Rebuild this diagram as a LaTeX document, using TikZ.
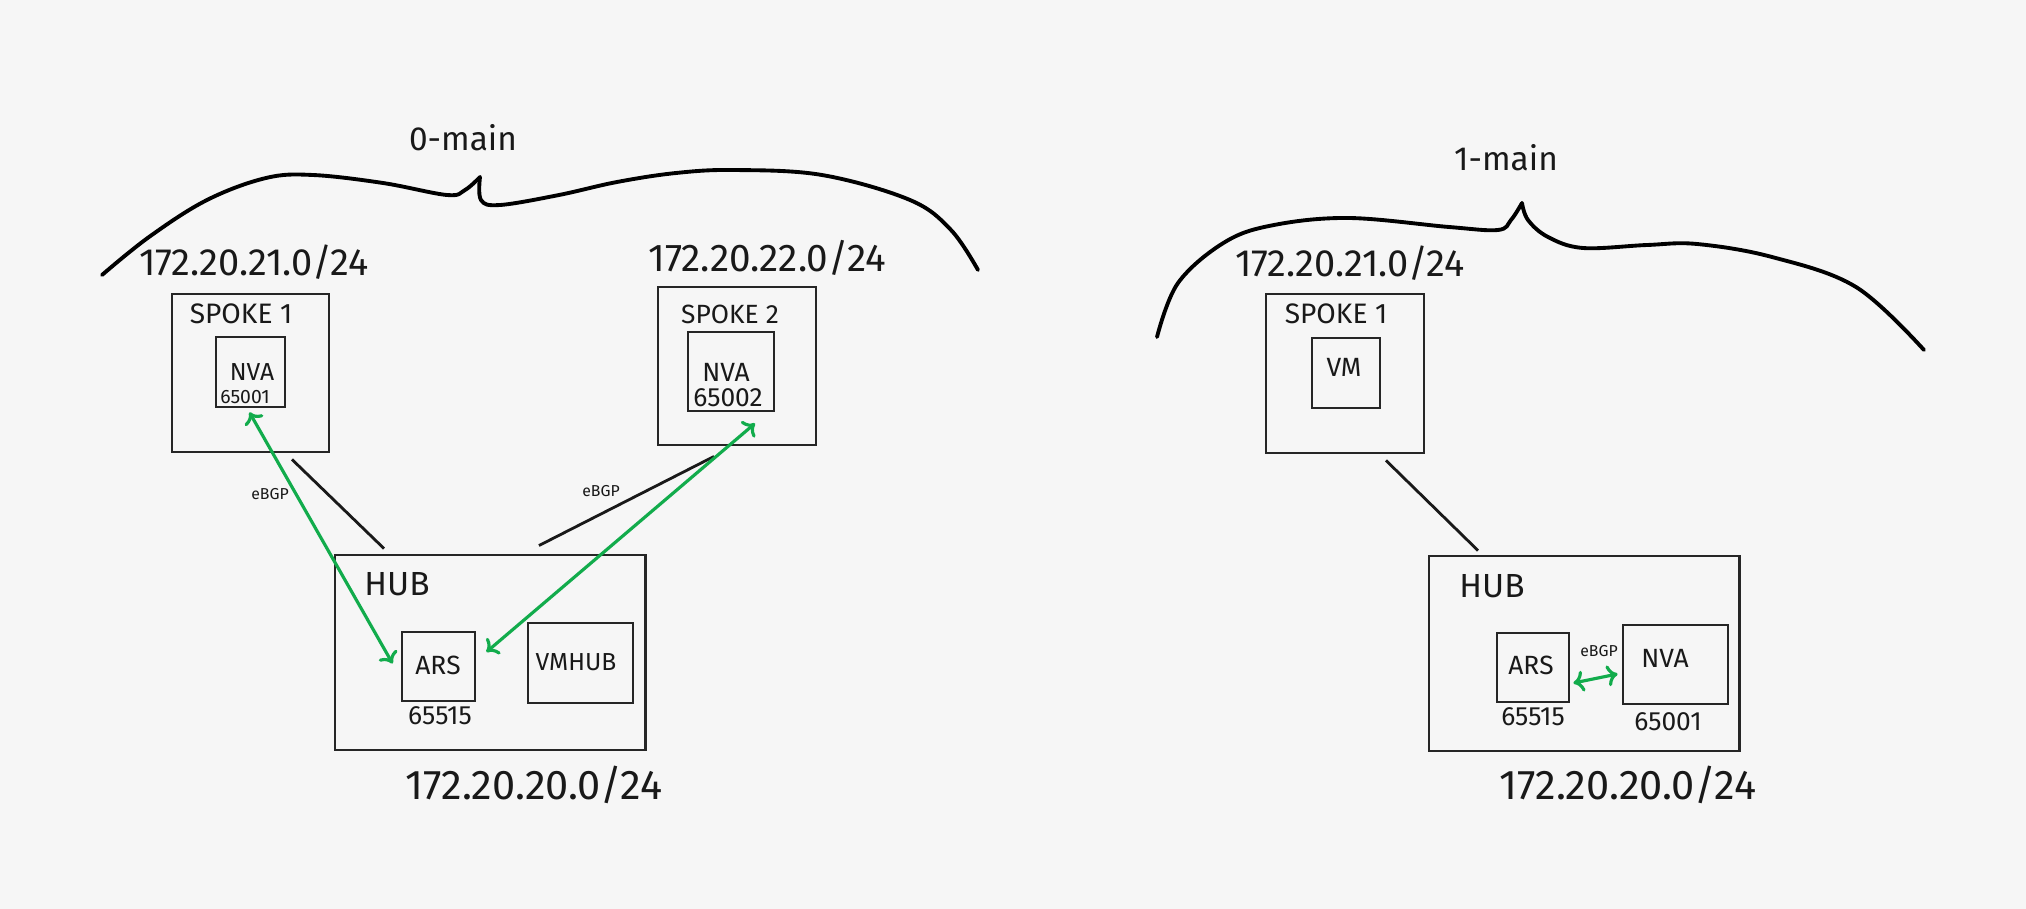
\documentclass[tikz,border=0pt]{standalone}
\usepackage{fontspec}
\setmainfont{Fira Sans}
\usepackage{tikz}
\usetikzlibrary{positioning, calc, arrows.meta}
\definecolor{paper}{HTML}{F6F6F6}
\definecolor{bgpgreen}{RGB}{18,172,76}
\newcommand{\fs}[1]{\fontsize{#1}{#1}\selectfont}
\tikzset{
  box/.style={draw=black!85, line width=0.8pt, inner sep=0pt},
  txt/.style={inner sep=0pt, text=black!90},
  link/.style={draw=black!90, line width=0.8pt},
  peer/.style={draw=bgpgreen, line width=0.9pt, {To[length=3pt,width=6pt]}-{To[length=3pt,width=6pt]}},
  brace/.style={line width=1.1pt, line cap=round, line join=round}
}

\begin{document}
\begin{tikzpicture}[x=0.01cm, y=-0.01cm]
      \fill[paper] (0,0) rectangle (2026,909);

      \draw[brace] plot[smooth, tension=0.6] coordinates {(102,275) (149,237) (207,200) (266,178) (313,175) (383,183) (447,195) (465,190) (480,177)};
      \draw[brace] plot[smooth, tension=0.6] coordinates {(480,177) (481,200) (500,205) (559,195) (617,182) (676,173) (734,170) (822,175) (910,200) (951,230) (978,270)};
      \draw[brace] plot[smooth, tension=0.6] coordinates {(1157,337) (1178,283) (1225,242) (1274,225) (1349,218) (1449,227) (1498,230) (1511,220) (1522,203)};
      \draw[brace] plot[smooth, tension=0.6] coordinates {(1522,203) (1528,220) (1548,237) (1583,248) (1647,245) (1697,244) (1772,257) (1856,287) (1924,350)};

      \node[txt, font=\fs{9.5}] (MAIN0) at (463,138) {0-main};
      \node[txt, font=\fs{9.5}] (MAIN1) at (1506,158) {1-main};

      \node[box, minimum width=1.57cm, minimum height=1.58cm] (SPK1) at (250.5,373) {};
      \node[box, minimum width=0.69cm, minimum height=0.70cm] (NVA1) at (250.5,372) {};
      \node[box, minimum width=1.58cm, minimum height=1.58cm] (SPK2) at (737,366) {};
      \node[box, minimum width=0.86cm, minimum height=0.79cm] (NVA2) at (731,371.5) {};
      \node[box, minimum width=3.10cm, minimum height=1.95cm] (HUB0) at (490,652.5) {};
      \node[box, minimum width=0.73cm, minimum height=0.69cm] (ARS0) at (438.5,666.5) {};
      \node[box, minimum width=1.05cm, minimum height=0.80cm] (VMH0) at (580.5,663) {};

      \node[box, minimum width=1.58cm, minimum height=1.59cm] (SPK3) at (1345,373.5) {};
      \node[box, minimum width=0.68cm, minimum height=0.70cm] (VM3) at (1346,373) {};
      \node[box, minimum width=3.10cm, minimum height=1.95cm] (HUB1) at (1584,653.5) {};
      \node[box, minimum width=0.72cm, minimum height=0.69cm] (ARS1) at (1533,667.5) {};
      \node[box, minimum width=1.05cm, minimum height=0.79cm] (NVA3) at (1675.5,664.5) {};

      \node[txt, font=\fs{10.8}] (NET1) at (254,262) {172.20.21.0/24};
      \node[txt, font=\fs{11}] (NET2) at (767,258) {172.20.22.0/24};
      \node[txt, font=\fs{11.8}] (NET0) at (534,785) {172.20.20.0/24};
      \node[txt, font=\fs{10.8}] (NET3) at (1350,263) {172.20.21.0/24};
      \node[txt, font=\fs{11.8}] (NET4) at (1628,785) {172.20.20.0/24};

      \node[txt, font=\fs{8}] (SPK1txt) at (241,314) {SPOKE 1};
      \node[txt, font=\fs{7.5}] (SPK2txt) at (730,314) {SPOKE 2};
      \node[txt, font=\fs{8}] (SPK3txt) at (1336,314) {SPOKE 1};
      \node[txt, font=\fs{7}] (NVA1txt) at (252,372) {NVA};
      \node[txt, font=\fs{5.5}] (NVA1asn) at (245,397) {65001};
      \node[txt, font=\fs{7.5}] (NVA2txt) at (726,372) {NVA};
      \node[txt, font=\fs{7.5}] (NVA2asn) at (728,398) {65002};
      \node[txt, font=\fs{7.5}] (VM3txt) at (1344,367) {VM};

      \node[txt, font=\fs{9.5}] (HUB0txt) at (397,584) {HUB};
      \node[txt, font=\fs{7.5}] (ARS0txt) at (438,665) {ARS};
      \node[txt, font=\fs{7.5}] (ARS0asn) at (440,716) {65515};
      \node[txt, font=\fs{7}] (VMH0txt) at (576,662) {VMHUB};
      \node[txt, font=\fs{9.5}] (HUB1txt) at (1492,586) {HUB};
      \node[txt, font=\fs{7.5}] (ARS1txt) at (1531,665) {ARS};
      \node[txt, font=\fs{7.5}] (ARS1asn) at (1533,717) {65515};
      \node[txt, font=\fs{7.5}] (NVA3txt) at (1665,658) {NVA};
      \node[txt, font=\fs{7.5}] (NVA3asn) at (1668,722) {65001};

      \node[txt, font=\fs{4.5}] (BGP1) at (270,494) {eBGP};
      \node[txt, font=\fs{4.5}] (BGP2) at (601,491) {eBGP};
      \node[txt, font=\fs{4.5}] (BGP3) at (1599,651) {eBGP};

      \draw[link] ($(SPK1.south)+(41.5,6)$) -- ($(HUB0.north)+(-106,-5)$);
      \draw[link] ($(HUB0.north)+(49,-8)$) -- ($(SPK2.south)+(-23,10)$);
      \draw[link] ($(SPK3.south)+(41,6)$) -- ($(HUB1.north)+(-106,-4)$);

      \draw[peer] ($(NVA1.south)+(-1,4)$) -- ($(ARS0.west)+(-8,-3)$);
      \draw[peer] ($(ARS0.east)+(10,-14.5)$) -- ($(NVA2.south)+(24,11)$);
      \draw[peer] ($(ARS1.east)+(3,15.5)$) -- ($(NVA3.west)+(-4,9.5)$);
    \end{tikzpicture}
\end{document}
